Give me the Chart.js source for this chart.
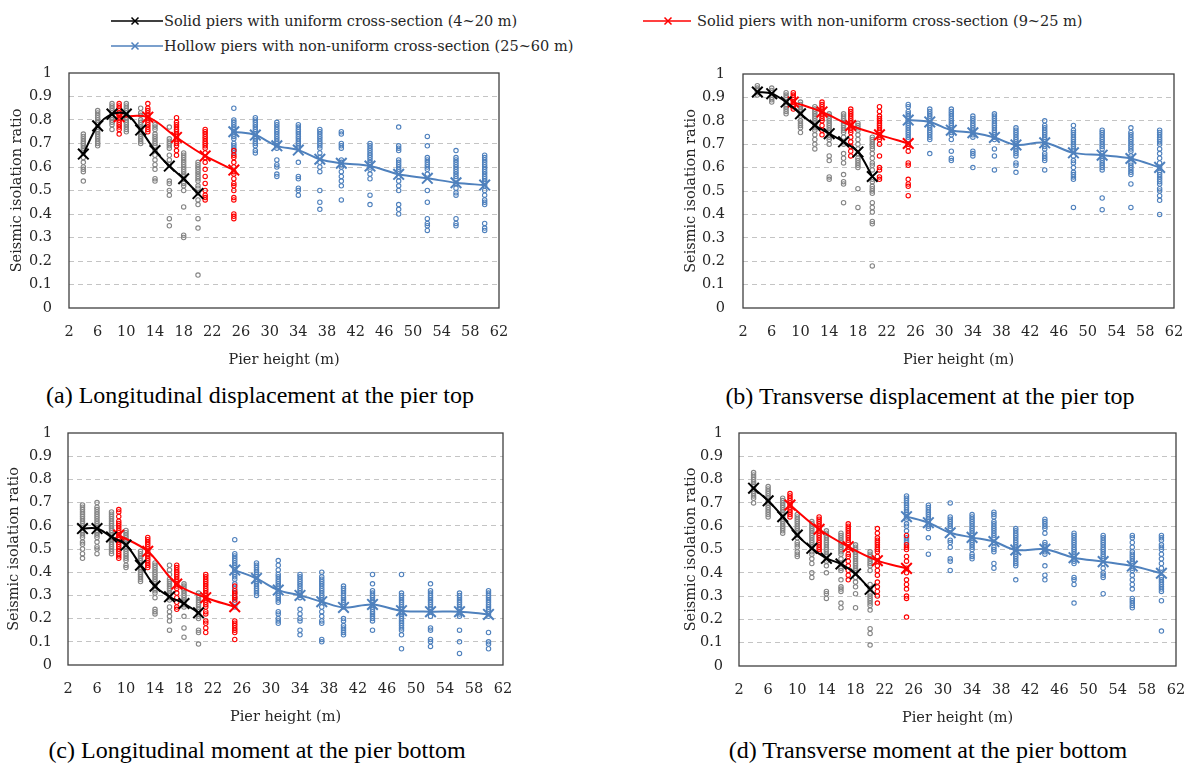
<!DOCTYPE html>
<html>
<head>
<meta charset="utf-8">
<script src="https://cdn.jsdelivr.net/npm/chart.js@4.4.1/dist/chart.umd.min.js"></script>
<style>
  body { margin:0; background:#fff; width:1192px; height:767px; position:relative; overflow:hidden; }
  canvas { position:absolute; }
  .cap { position:absolute; width:600px; text-align:center; font-family:'Liberation Serif', serif; font-size:24px; color:#000; line-height:28px; }
  .leg { position:absolute; font-family:'DejaVu Serif', serif; font-size:14.5px; color:#262626; line-height:18px; white-space:nowrap; }
  .mk { position:absolute; }
</style>
</head>
<body>

<!-- legend -->
<svg class="mk" style="left:111px;top:15px" width="52" height="12"><line x1="0" y1="6" x2="52" y2="6" stroke="#000" stroke-width="1.5"/><path d="M20.5 2.5 L27.5 9.5 M27.5 2.5 L20.5 9.5" stroke="#000" stroke-width="1.5"/></svg>
<div class="leg" style="left:164px;top:12px">Solid piers with uniform cross-section (4~20 m)</div>
<svg class="mk" style="left:643px;top:15px" width="50" height="12"><line x1="0" y1="6" x2="48" y2="6" stroke="#ff0000" stroke-width="1.5"/><path d="M21.5 2.5 L28.5 9.5 M28.5 2.5 L21.5 9.5" stroke="#ff0000" stroke-width="1.5"/></svg>
<div class="leg" style="left:697px;top:12px">Solid piers with non-uniform cross-section (9~25 m)</div>
<svg class="mk" style="left:111px;top:40px" width="52" height="12"><line x1="0" y1="6" x2="52" y2="6" stroke="#4f81bd" stroke-width="1.5"/><path d="M20.5 2.5 L27.5 9.5 M27.5 2.5 L20.5 9.5" stroke="#4f81bd" stroke-width="1.5"/></svg>
<div class="leg" style="left:164px;top:37px">Hollow piers with non-uniform cross-section (25~60 m)</div>

<canvas id="pa" width="512" height="312" style="left:0px;top:60px"></canvas>
<canvas id="pb" width="517" height="311" style="left:670px;top:61px"></canvas>
<canvas id="pc" width="516" height="309" style="left:0px;top:420px"></canvas>
<canvas id="pd" width="519" height="310" style="left:670px;top:420px"></canvas>

<div class="cap" style="left:-40px;top:381px">(a) Longitudinal displacement at the pier top</div>
<div class="cap" style="left:630px;top:382px">(b) Transverse displacement at the pier top</div>
<div class="cap" style="left:-43px;top:736px">(c) Longitudinal moment at the pier bottom</div>
<div class="cap" style="left:628px;top:736px">(d) Transverse moment at the pier bottom</div>

<script>
'use strict'
//-------------
// - DATA -
//-------------
// pier heights of each group (m)
var xSolid = [4, 6, 8, 10, 12, 14, 16, 18, 20];
var xSolidVar = [9, 13, 17, 21, 25];
var xHollow = [25, 28, 31, 34, 37, 40, 44, 48, 52, 56, 60];

// mean ratio lines
var meanSolidA = [0.655, 0.775, 0.825, 0.825, 0.757, 0.67, 0.604, 0.55, 0.487];
var meanSolidVarA = [0.814, 0.812, 0.726, 0.647, 0.587];
var meanHollowA = [0.75, 0.736, 0.69, 0.672, 0.633, 0.616, 0.604, 0.569, 0.552, 0.533, 0.523];

var meanSolidB = [0.923, 0.916, 0.88, 0.83, 0.781, 0.745, 0.71, 0.667, 0.562];
var meanSolidVarB = [0.88, 0.838, 0.78, 0.74, 0.703];
var meanHollowB = [0.803, 0.795, 0.76, 0.749, 0.729, 0.697, 0.706, 0.663, 0.653, 0.639, 0.601];

var meanSolidC = [0.588, 0.588, 0.552, 0.517, 0.43, 0.34, 0.294, 0.265, 0.225];
var meanSolidVarC = [0.56, 0.49, 0.349, 0.29, 0.251];
var meanHollowC = [0.409, 0.373, 0.323, 0.30, 0.273, 0.248, 0.261, 0.234, 0.23, 0.23, 0.218];

var meanSolidD = [0.763, 0.709, 0.641, 0.562, 0.505, 0.462, 0.438, 0.395, 0.329];
var meanSolidVarD = [0.691, 0.587, 0.512, 0.452, 0.419];
var meanHollowD = [0.641, 0.615, 0.572, 0.552, 0.534, 0.498, 0.501, 0.465, 0.448, 0.429, 0.398];

// individual cases, one list per pier height
var casesSolidA = [
  [0.74,0.73,0.72,0.71,0.70,0.69,0.68,0.67,0.66,0.64,0.62,0.60,0.59,0.58,0.54],
  [0.84,0.83,0.82,0.81,0.80,0.79,0.78,0.77,0.76,0.75,0.74,0.73,0.72,0.71,0.70,0.69],
  [0.87,0.86,0.85,0.84,0.83,0.82,0.81,0.80,0.79,0.78,0.76],
  [0.87,0.86,0.85,0.84,0.83,0.82,0.81,0.80,0.79,0.78,0.77,0.76,0.75],
  [0.85,0.83,0.82,0.80,0.79,0.78,0.77,0.76,0.75,0.74,0.73,0.72,0.71,0.70],
  [0.78,0.77,0.76,0.74,0.73,0.72,0.71,0.70,0.69,0.67,0.65,0.63,0.61,0.59,0.55,0.54],
  [0.77,0.72,0.71,0.70,0.69,0.68,0.65,0.63,0.61,0.54,0.53,0.50,0.48,0.38,0.35],
  [0.66,0.65,0.64,0.63,0.62,0.61,0.60,0.59,0.58,0.57,0.56,0.55,0.53,0.52,0.50,0.43,0.31,0.30],
  [0.62,0.61,0.60,0.59,0.58,0.57,0.56,0.55,0.54,0.52,0.51,0.49,0.46,0.44,0.38,0.34,0.14]
];
var casesSolidVarA = [
  [0.87,0.86,0.85,0.84,0.83,0.82,0.81,0.80,0.79,0.78,0.77,0.76,0.74],
  [0.87,0.85,0.84,0.83,0.82,0.81,0.80,0.79,0.78,0.77,0.76,0.75],
  [0.81,0.79,0.78,0.77,0.76,0.75,0.74,0.73,0.72,0.71,0.70,0.69,0.67,0.65],
  [0.76,0.75,0.74,0.73,0.72,0.71,0.70,0.69,0.68,0.66,0.64,0.62,0.59,0.56,0.53,0.50,0.48,0.47,0.46],
  [0.67,0.65,0.64,0.62,0.60,0.58,0.57,0.55,0.53,0.52,0.50,0.47,0.46,0.40,0.39,0.38]
];
var casesHollowA = [
  [0.85,0.80,0.79,0.78,0.77,0.76,0.75,0.74,0.73,0.72,0.70,0.69,0.68,0.67,0.66],
  [0.81,0.80,0.79,0.78,0.77,0.76,0.75,0.74,0.73,0.72,0.71,0.70,0.69,0.67,0.66],
  [0.79,0.78,0.77,0.76,0.75,0.74,0.73,0.72,0.71,0.70,0.69,0.68,0.63,0.61,0.60,0.57,0.56],
  [0.78,0.77,0.76,0.75,0.74,0.73,0.72,0.71,0.70,0.69,0.68,0.62,0.56,0.55,0.51,0.50,0.48],
  [0.76,0.75,0.74,0.73,0.72,0.71,0.70,0.69,0.68,0.66,0.64,0.62,0.60,0.58,0.50,0.45,0.42],
  [0.75,0.74,0.70,0.69,0.68,0.63,0.62,0.61,0.60,0.58,0.56,0.54,0.52,0.46],
  [0.70,0.69,0.68,0.67,0.66,0.65,0.64,0.63,0.62,0.61,0.60,0.59,0.57,0.55,0.48,0.44],
  [0.77,0.69,0.68,0.67,0.63,0.62,0.61,0.60,0.59,0.58,0.56,0.54,0.52,0.50,0.44,0.42,0.40],
  [0.73,0.69,0.64,0.63,0.62,0.61,0.60,0.59,0.57,0.50,0.45,0.38,0.36,0.35,0.33],
  [0.67,0.64,0.63,0.62,0.61,0.60,0.59,0.58,0.57,0.56,0.55,0.53,0.51,0.49,0.48,0.38,0.36,0.35],
  [0.65,0.64,0.63,0.62,0.61,0.60,0.59,0.58,0.57,0.56,0.55,0.54,0.53,0.52,0.50,0.48,0.46,0.45,0.44,0.36,0.34,0.33]
];

var casesSolidB = [
  [0.95,0.94,0.93,0.92,0.91],
  [0.94,0.93,0.92,0.91,0.90,0.89,0.88],
  [0.92,0.91,0.90,0.89,0.88,0.87,0.86,0.85,0.84,0.83],
  [0.88,0.87,0.86,0.85,0.84,0.83,0.82,0.80,0.79,0.78,0.77,0.75],
  [0.86,0.85,0.84,0.83,0.82,0.81,0.80,0.79,0.78,0.77,0.76,0.74,0.72,0.70,0.68],
  [0.83,0.82,0.81,0.80,0.79,0.78,0.77,0.76,0.75,0.74,0.73,0.72,0.70,0.65,0.63,0.56,0.55],
  [0.83,0.82,0.81,0.80,0.79,0.78,0.77,0.76,0.75,0.73,0.71,0.70,0.66,0.64,0.62,0.57,0.54,0.53,0.45],
  [0.79,0.78,0.77,0.76,0.74,0.72,0.70,0.68,0.66,0.64,0.63,0.62,0.61,0.60,0.51,0.43],
  [0.73,0.72,0.71,0.70,0.69,0.68,0.66,0.64,0.62,0.61,0.59,0.55,0.54,0.52,0.51,0.50,0.49,0.45,0.43,0.41,0.37,0.36,0.18]
];
var casesSolidVarB = [
  [0.92,0.91,0.90,0.89,0.88,0.87,0.86,0.85],
  [0.88,0.87,0.86,0.85,0.84,0.83,0.82,0.81,0.80,0.78,0.76,0.74],
  [0.85,0.84,0.83,0.82,0.81,0.80,0.79,0.78,0.77,0.76,0.75,0.73,0.71,0.69,0.67,0.65],
  [0.86,0.84,0.82,0.81,0.80,0.79,0.78,0.77,0.76,0.75,0.74,0.73,0.72,0.70,0.65,0.60,0.59,0.56,0.55],
  [0.70,0.69,0.67,0.62,0.61,0.55,0.53,0.52,0.48]
];
var casesHollowB = [
  [0.87,0.86,0.84,0.83,0.82,0.81,0.80,0.79,0.78,0.77,0.76,0.75,0.74,0.73,0.72,0.70],
  [0.85,0.84,0.83,0.82,0.81,0.80,0.79,0.78,0.77,0.76,0.75,0.74,0.73,0.72,0.66],
  [0.85,0.84,0.83,0.82,0.81,0.80,0.79,0.78,0.77,0.76,0.75,0.74,0.72,0.67,0.64,0.63],
  [0.82,0.81,0.80,0.79,0.78,0.77,0.76,0.75,0.74,0.73,0.67,0.66,0.65,0.60],
  [0.83,0.82,0.81,0.80,0.79,0.78,0.77,0.76,0.75,0.74,0.73,0.72,0.68,0.65,0.59],
  [0.77,0.76,0.75,0.74,0.73,0.72,0.71,0.70,0.69,0.68,0.67,0.66,0.65,0.62,0.61,0.58],
  [0.80,0.78,0.77,0.76,0.75,0.74,0.73,0.72,0.71,0.70,0.69,0.68,0.66,0.65,0.64,0.63,0.59],
  [0.78,0.76,0.75,0.74,0.73,0.72,0.71,0.70,0.69,0.68,0.67,0.65,0.63,0.62,0.60,0.58,0.57,0.56,0.55,0.43],
  [0.76,0.75,0.74,0.73,0.72,0.71,0.70,0.69,0.68,0.66,0.65,0.64,0.63,0.62,0.61,0.60,0.59,0.47,0.42],
  [0.77,0.75,0.74,0.73,0.72,0.71,0.70,0.69,0.68,0.67,0.65,0.64,0.62,0.61,0.60,0.59,0.58,0.57,0.53,0.43],
  [0.76,0.75,0.74,0.73,0.72,0.71,0.70,0.68,0.66,0.64,0.62,0.60,0.58,0.57,0.56,0.55,0.54,0.53,0.51,0.50,0.48,0.46,0.40]
];

var casesSolidC = [
  [0.69,0.68,0.67,0.66,0.65,0.64,0.63,0.62,0.61,0.60,0.59,0.58,0.57,0.56,0.55,0.53,0.52,0.50,0.48,0.46],
  [0.70,0.68,0.67,0.66,0.65,0.64,0.63,0.62,0.61,0.60,0.59,0.58,0.57,0.56,0.55,0.53,0.51,0.50,0.48],
  [0.66,0.65,0.64,0.63,0.62,0.61,0.60,0.59,0.58,0.57,0.56,0.55,0.54,0.53,0.52,0.51,0.50,0.49,0.48],
  [0.58,0.57,0.56,0.55,0.54,0.53,0.52,0.51,0.50,0.49,0.48,0.47,0.46,0.45,0.43,0.42],
  [0.49,0.48,0.47,0.46,0.45,0.44,0.43,0.42,0.41,0.40,0.39,0.38,0.37,0.36],
  [0.44,0.43,0.42,0.41,0.40,0.39,0.38,0.37,0.36,0.35,0.34,0.33,0.32,0.31,0.29,0.24,0.23,0.22],
  [0.43,0.41,0.39,0.37,0.36,0.35,0.34,0.33,0.32,0.31,0.30,0.29,0.28,0.25,0.23,0.21,0.19,0.15],
  [0.35,0.34,0.33,0.32,0.31,0.30,0.29,0.28,0.27,0.26,0.25,0.21,0.16,0.12],
  [0.31,0.30,0.29,0.28,0.27,0.26,0.25,0.24,0.23,0.22,0.21,0.20,0.15,0.14,0.09]
];
var casesSolidVarC = [
  [0.67,0.66,0.64,0.62,0.61,0.60,0.59,0.58,0.57,0.56,0.55,0.54,0.53,0.52,0.51,0.50,0.49,0.48,0.47,0.46],
  [0.55,0.54,0.53,0.52,0.51,0.50,0.49,0.48,0.47,0.46,0.45,0.44,0.43,0.42],
  [0.43,0.42,0.41,0.40,0.39,0.38,0.37,0.36,0.35,0.34,0.33,0.31,0.29,0.27,0.25,0.24],
  [0.39,0.38,0.37,0.36,0.35,0.34,0.33,0.32,0.31,0.30,0.29,0.28,0.27,0.26,0.25,0.23,0.22,0.19,0.18,0.16,0.14],
  [0.34,0.32,0.31,0.30,0.29,0.28,0.19,0.18,0.17,0.16,0.15,0.14,0.11]
];
var casesHollowC = [
  [0.54,0.48,0.47,0.46,0.45,0.44,0.43,0.42,0.41,0.40,0.39,0.38,0.37,0.35,0.33,0.31,0.29,0.27,0.25],
  [0.44,0.43,0.42,0.41,0.40,0.39,0.38,0.37,0.36,0.35,0.34,0.33,0.32,0.31,0.30],
  [0.45,0.43,0.41,0.39,0.38,0.37,0.36,0.35,0.34,0.33,0.32,0.31,0.30,0.29,0.28,0.27,0.23,0.22,0.20,0.19,0.18],
  [0.39,0.38,0.37,0.36,0.35,0.34,0.33,0.32,0.31,0.30,0.29,0.24,0.22,0.20,0.19,0.15,0.13],
  [0.40,0.38,0.37,0.36,0.35,0.34,0.33,0.32,0.31,0.30,0.29,0.28,0.27,0.25,0.23,0.21,0.19,0.18,0.11,0.10],
  [0.34,0.33,0.32,0.31,0.30,0.29,0.28,0.27,0.26,0.25,0.20,0.19,0.17,0.16,0.15,0.14,0.13],
  [0.39,0.35,0.32,0.31,0.30,0.29,0.28,0.27,0.26,0.25,0.24,0.23,0.22,0.21,0.20,0.19,0.15],
  [0.39,0.31,0.30,0.29,0.28,0.27,0.26,0.25,0.24,0.23,0.22,0.21,0.20,0.19,0.18,0.17,0.16,0.15,0.13,0.07],
  [0.35,0.32,0.31,0.30,0.29,0.28,0.27,0.26,0.25,0.24,0.23,0.21,0.16,0.15,0.11,0.10,0.08],
  [0.31,0.30,0.29,0.28,0.27,0.26,0.25,0.24,0.23,0.22,0.21,0.15,0.10,0.05],
  [0.32,0.31,0.30,0.29,0.28,0.27,0.26,0.25,0.24,0.23,0.22,0.21,0.14,0.10,0.09,0.07]
];

var casesSolidD = [
  [0.83,0.82,0.81,0.80,0.79,0.78,0.77,0.76,0.75,0.74,0.73,0.72,0.70],
  [0.77,0.76,0.75,0.74,0.73,0.72,0.71,0.70,0.69,0.68,0.67,0.66,0.65,0.64],
  [0.72,0.71,0.70,0.69,0.68,0.67,0.66,0.65,0.64,0.63,0.62,0.61,0.60,0.59,0.58,0.57],
  [0.65,0.64,0.63,0.62,0.61,0.60,0.59,0.58,0.57,0.56,0.55,0.53,0.52,0.51,0.49,0.48,0.47],
  [0.62,0.61,0.60,0.59,0.58,0.57,0.56,0.55,0.54,0.53,0.52,0.51,0.49,0.48,0.46,0.44,0.40,0.38],
  [0.58,0.57,0.56,0.55,0.54,0.53,0.52,0.51,0.50,0.49,0.48,0.47,0.46,0.45,0.43,0.40,0.32,0.31,0.29],
  [0.57,0.56,0.55,0.54,0.53,0.52,0.51,0.50,0.49,0.48,0.46,0.44,0.42,0.41,0.37,0.34,0.33,0.32,0.27,0.25],
  [0.52,0.51,0.50,0.49,0.48,0.47,0.46,0.45,0.44,0.43,0.42,0.41,0.40,0.38,0.36,0.34,0.31,0.25],
  [0.49,0.48,0.47,0.46,0.45,0.44,0.43,0.41,0.35,0.33,0.31,0.30,0.29,0.28,0.27,0.26,0.24,0.16,0.14,0.09]
];
var casesSolidVarD = [
  [0.74,0.73,0.72,0.71,0.70,0.69,0.68,0.67,0.66,0.65,0.64],
  [0.64,0.63,0.62,0.61,0.60,0.59,0.58,0.57,0.56,0.55,0.54,0.53,0.52,0.51,0.50,0.49],
  [0.61,0.60,0.59,0.58,0.57,0.56,0.55,0.54,0.53,0.51,0.50,0.48,0.47,0.45,0.43,0.41,0.39,0.37],
  [0.59,0.57,0.55,0.54,0.53,0.52,0.51,0.50,0.49,0.47,0.45,0.43,0.41,0.39,0.36,0.34,0.32,0.30,0.27],
  [0.56,0.52,0.51,0.50,0.47,0.45,0.42,0.40,0.37,0.35,0.33,0.30,0.29,0.21]
];
var casesHollowD = [
  [0.73,0.72,0.71,0.70,0.69,0.68,0.67,0.66,0.65,0.64,0.63,0.61,0.60,0.58,0.55,0.54,0.53],
  [0.69,0.68,0.67,0.66,0.65,0.64,0.63,0.62,0.61,0.60,0.59,0.55,0.48],
  [0.70,0.64,0.63,0.62,0.61,0.60,0.59,0.54,0.53,0.51,0.46,0.45,0.41],
  [0.65,0.64,0.63,0.62,0.61,0.60,0.59,0.58,0.57,0.56,0.55,0.54,0.53,0.52,0.51,0.50,0.48,0.47,0.46],
  [0.66,0.65,0.64,0.62,0.61,0.60,0.59,0.58,0.57,0.56,0.55,0.53,0.51,0.50,0.49,0.44,0.42],
  [0.59,0.58,0.57,0.56,0.55,0.54,0.53,0.52,0.51,0.50,0.49,0.48,0.47,0.46,0.45,0.44,0.43,0.37],
  [0.63,0.62,0.61,0.60,0.59,0.57,0.53,0.52,0.51,0.50,0.49,0.48,0.43,0.39,0.37],
  [0.57,0.56,0.55,0.54,0.53,0.52,0.51,0.50,0.49,0.48,0.47,0.46,0.45,0.44,0.38,0.37,0.35,0.27],
  [0.56,0.55,0.54,0.53,0.52,0.51,0.50,0.49,0.48,0.47,0.46,0.44,0.42,0.40,0.39,0.38,0.31],
  [0.56,0.55,0.53,0.51,0.49,0.48,0.47,0.46,0.45,0.44,0.42,0.41,0.39,0.37,0.35,0.33,0.29,0.28,0.27,0.26,0.25],
  [0.56,0.55,0.54,0.52,0.51,0.50,0.48,0.46,0.44,0.42,0.38,0.37,0.36,0.35,0.34,0.33,0.32,0.28,0.15]
];

//-------------
// - HELPERS -
//-------------
var black = '#000000', red = '#ff0000', blue = '#4f81bd', grey = '#858585';
var clear = 'rgba(0,0,0,0)';

Chart.defaults.font.family = "'DejaVu Serif', serif";
Chart.defaults.font.size = 14.5;
Chart.defaults.color = '#262626';

function pts(xs, ys) {
  return xs.map(function (x, i) { return { x: x, y: ys[i] }; });
}
function cloud(xs, cols) {
  var out = [];
  xs.forEach(function (x, i) {
    cols[i].forEach(function (v) { out.push({ x: x, y: v }); });
  });
  return out;
}
function meanLine(xs, ys, color) {
  return {
    data: pts(xs, ys), showLine: true, tension: 0.35,
    borderColor: color, backgroundColor: color, borderWidth: 2,
    pointStyle: 'crossRot', pointRadius: 7.5, pointBorderWidth: 2
  };
}
function dots(xs, cols, color) {
  return {
    data: cloud(xs, cols), showLine: false,
    borderColor: color, backgroundColor: clear,
    pointStyle: 'circle', pointRadius: 2.2, pointBorderWidth: 1.1
  };
}

// box around the plot area
var frame = {
  id: 'frame',
  afterDatasetsDraw: function (chart) {
    var a = chart.chartArea, ctx = chart.ctx;
    ctx.save();
    ctx.strokeStyle = '#404040';
    ctx.lineWidth = 1.3;
    ctx.strokeRect(a.left, a.top, a.right - a.left, a.bottom - a.top);
    ctx.restore();
  }
};

// g: yw = y axis width, xh = x axis height, titlePad = y title offset,
//    tickGap = room between y labels and the plot (an invisible tick mark)
function drawPanel(id, g, means, cases) {
  new Chart(document.getElementById(id), {
    type: 'scatter',
    data: {
      datasets: [
        meanLine(xSolid, means[0], black),
        meanLine(xSolidVar, means[1], red),
        meanLine(xHollow, means[2], blue),
        dots(xSolid, cases[0], grey),
        dots(xSolidVar, cases[1], red),
        dots(xHollow, cases[2], blue)
      ]
    },
    options: {
      responsive: false,
      animation: false,
      layout: { padding: { top: 13, right: 13, left: 0, bottom: 0 } },
      plugins: { legend: { display: false }, tooltip: { enabled: false } },
      scales: {
        x: {
          type: 'linear', min: 2, max: 62,
          ticks: { stepSize: 4, padding: 0, maxRotation: 0 },
          grid: { drawOnChartArea: false, drawTicks: true, tickLength: 16, color: clear, tickColor: clear },
          border: { display: false },
          title: { display: true, text: 'Pier height (m)', padding: { top: 0, bottom: 3 } },
          afterFit: function (s) { s.height = g.xh; }
        },
        y: {
          type: 'linear', min: 0, max: 1,
          ticks: {
            stepSize: 0.1, padding: 0,
            callback: function (v) { return String(Math.round(v * 10) / 10); }
          },
          grid: {
            drawTicks: true, tickLength: g.tickGap, tickColor: clear, lineWidth: 1,
            color: function (c) { return (c.tick && c.tick.value > 0.01 && c.tick.value < 0.99) ? '#c4c4c4' : clear; }
          },
          border: { display: false, dash: [5, 4] },
          title: { display: true, text: 'Seismic isolation ratio', padding: { top: g.titlePad, bottom: 0 } },
          afterFit: function (s) { s.width = g.yw; }
        }
      }
    },
    plugins: [frame]
  });
}

drawPanel('pa', { yw: 69, xh: 64, titlePad: 9, tickGap: 17 },
  [meanSolidA, meanSolidVarA, meanHollowA], [casesSolidA, casesSolidVarA, casesHollowA]);
drawPanel('pb', { yw: 73, xh: 64, titlePad: 13, tickGap: 18 },
  [meanSolidB, meanSolidVarB, meanHollowB], [casesSolidB, casesSolidVarB, casesHollowB]);
drawPanel('pc', { yw: 68, xh: 64, titlePad: 6, tickGap: 16 },
  [meanSolidC, meanSolidVarC, meanHollowC], [casesSolidC, casesSolidVarC, casesHollowC]);
drawPanel('pd', { yw: 69, xh: 64, titlePad: 13, tickGap: 16 },
  [meanSolidD, meanSolidVarD, meanHollowD], [casesSolidD, casesSolidVarD, casesHollowD]);
</script>
</body>
</html>
